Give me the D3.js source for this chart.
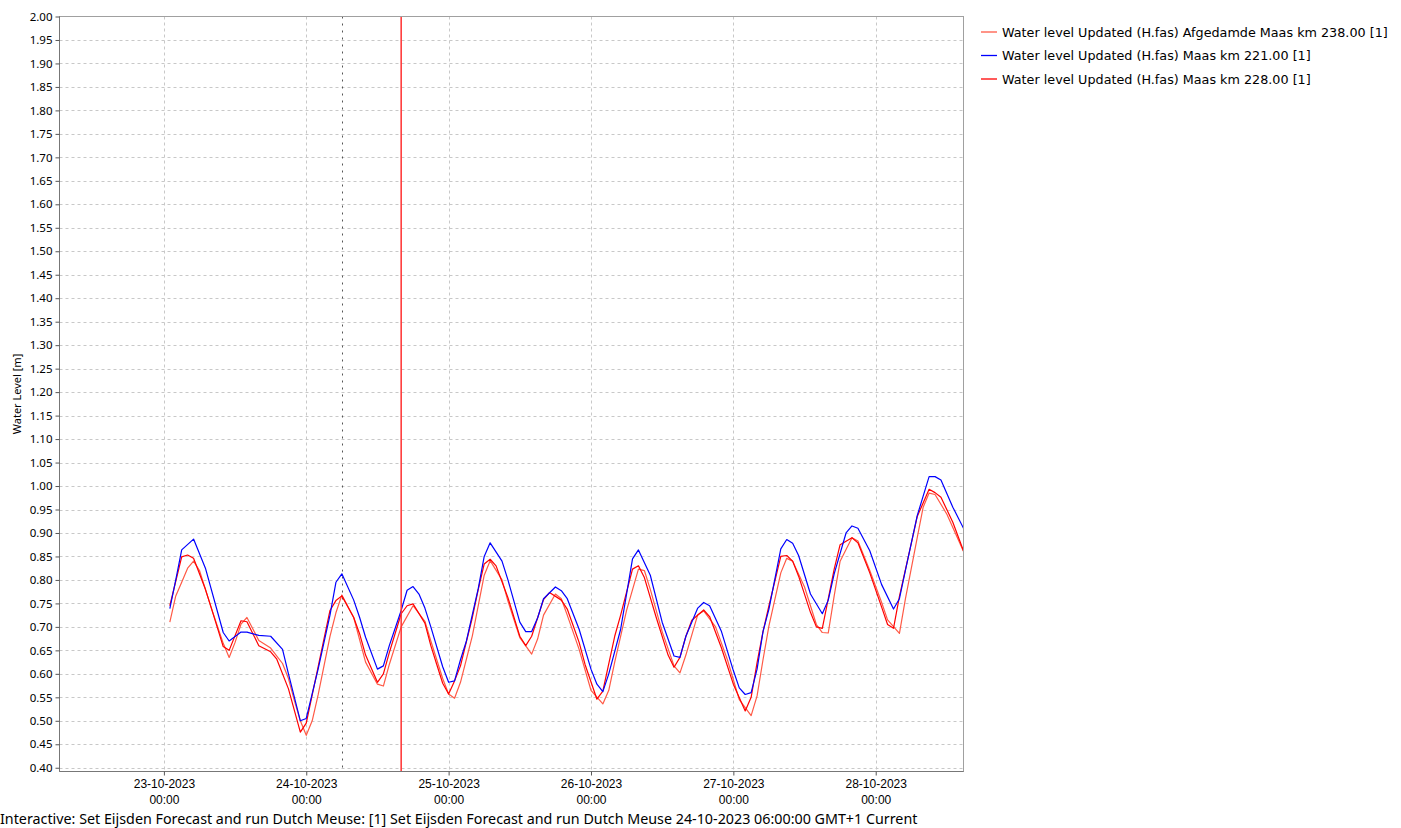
<!DOCTYPE html>
<html><head><meta charset="utf-8">
<script src="https://cdn.jsdelivr.net/npm/d3@7"></script>
<style>
body{margin:0;background:#fff;overflow:hidden;}
svg{display:block;font-family:"Noto Sans",sans-serif;}
</style>
</head><body><svg id="c" width="1401" height="828"></svg>
<script>
// ---- data (hours after 23-10-2023 00:00, water level in m) ----
const seriesNames = [
  "Water level Updated (H.fas) Afgedamde Maas km 238.00 [1]",
  "Water level Updated (H.fas) Maas km 221.00 [1]",
  "Water level Updated (H.fas) Maas km 228.00 [1]"
];
const seriesColors = ["#ff5a46", "#0000ff", "#ff0000"];

const afgHours  = [1,2,3,4,5,6,8,10,11,12,13,14,16,18,20,21,22,23,24,25,26,28,29,30,32,34,36,37,38,40,42,44,45,47,48,49,50,52,54,55,57,58,60,62,63,64,66,67,68,70,72,74,75,76,78,80,81,82,84,86,87,88,90,91,93,95,97,99,100,101,102,104,105,106,108,110,111,112,113,114,116,117,119,121,122,124,125,127,128,129,130,132,135,136];
const afgLevels = [0.71,0.766,0.795,0.825,0.84,0.82,0.74,0.665,0.635,0.667,0.706,0.72,0.671,0.655,0.622,0.59,0.543,0.50,0.469,0.50,0.555,0.68,0.73,0.768,0.72,0.625,0.578,0.574,0.62,0.70,0.745,0.712,0.67,0.59,0.557,0.548,0.582,0.681,0.81,0.841,0.80,0.755,0.677,0.642,0.674,0.725,0.77,0.76,0.725,0.652,0.565,0.536,0.565,0.625,0.735,0.823,0.82,0.78,0.69,0.617,0.602,0.64,0.726,0.734,0.70,0.63,0.545,0.511,0.553,0.63,0.702,0.815,0.846,0.84,0.785,0.705,0.688,0.687,0.766,0.84,0.89,0.883,0.82,0.752,0.715,0.686,0.759,0.89,0.955,0.985,0.982,0.94,0.855,0.835];

const km221Hours  = [1,2,3,5,7,10,11,13,14,16,18,20,21,23,24,26,28,29,30,32,33,34,36,37,38,40,41,42,43,44,45,47,48,49,50,51,53,54,55,57,58,60,61,62,63,64,66,67,68,70,72,73,74,75,77,79,80,82,84,86,87,88,90,91,92,94,96,97,98,99,100,101,102,104,105,106,107,109,111,112,113,115,116,117,119,121,123,124,125,127,129,130,131,133,135,136];
const km221Levels = [0.739,0.80,0.864,0.887,0.825,0.688,0.670,0.689,0.689,0.682,0.680,0.652,0.600,0.500,0.505,0.610,0.725,0.795,0.813,0.757,0.72,0.678,0.61,0.617,0.66,0.735,0.778,0.786,0.77,0.74,0.70,0.615,0.582,0.585,0.63,0.67,0.782,0.85,0.879,0.84,0.80,0.71,0.69,0.69,0.719,0.76,0.785,0.777,0.76,0.695,0.61,0.578,0.562,0.60,0.695,0.845,0.864,0.81,0.71,0.638,0.635,0.68,0.74,0.752,0.745,0.69,0.607,0.57,0.556,0.56,0.61,0.69,0.738,0.866,0.886,0.878,0.852,0.77,0.728,0.757,0.813,0.90,0.915,0.91,0.862,0.79,0.738,0.76,0.82,0.937,1.02,1.02,1.013,0.955,0.905,0.89];

const km228Hours  = [1,3,4,5,7,8,10,11,13,14,16,18,19,21,23,24,26,28,29,30,32,33,34,36,37,38,40,41,42,44,45,46,47,48,49,50,52,53,54,55,56,58,60,61,62,64,65,67,68,70,71,73,74,76,77,79,80,81,83,85,86,87,88,89,91,92,94,96,98,99,100,101,102,104,105,106,107,109,110,111,113,114,116,117,119,121,122,123,124,126,127,129,130,131,133,135,136];
const km228Levels = [0.745,0.849,0.853,0.846,0.78,0.74,0.658,0.65,0.713,0.711,0.66,0.647,0.632,0.568,0.476,0.495,0.615,0.735,0.756,0.766,0.72,0.685,0.64,0.582,0.60,0.645,0.728,0.745,0.749,0.708,0.66,0.62,0.58,0.557,0.585,0.617,0.72,0.78,0.834,0.844,0.83,0.762,0.68,0.66,0.68,0.758,0.773,0.757,0.738,0.667,0.62,0.546,0.563,0.68,0.725,0.823,0.83,0.805,0.72,0.64,0.614,0.635,0.68,0.714,0.736,0.722,0.655,0.578,0.521,0.55,0.624,0.69,0.745,0.85,0.852,0.84,0.808,0.731,0.70,0.697,0.823,0.875,0.89,0.879,0.815,0.742,0.705,0.697,0.765,0.878,0.935,0.993,0.986,0.976,0.923,0.855,0.835];

const yTickValues = [0.40,0.45,0.50,0.55,0.60,0.65,0.70,0.75,0.80,0.85,0.90,0.95,1.00,1.05,1.10,1.15,1.20,1.25,1.30,1.35,1.40,1.45,1.50,1.55,1.60,1.65,1.70,1.75,1.80,1.85,1.90,1.95,2.00];
const dayTicks = ["2023-10-23","2023-10-24","2023-10-25","2023-10-26","2023-10-27","2023-10-28"];
const systemTime = "2023-10-24T06:00:00Z";
const forecastTime = "2023-10-24T16:00:00Z";
const xDomain = ["2023-10-22T06:24:00Z", "2023-10-28T14:48:00Z"];
const yDomain = [0.392, 2.0];
const yTitle = "Water Level [m]";
const statusText = "Interactive: Set Eijsden Forecast and run Dutch Meuse: [1] Set Eijsden Forecast and run Dutch Meuse 24-10-2023 06:00:00 GMT+1 Current";

// ---- drawing ----
const base = Date.UTC(2023, 9, 23, 0, 0);
const toDate = h => new Date(base + h * 3600e3);
const series = [
  {name: seriesNames[0], color: seriesColors[0], pts: afgHours.map((h,i)=>({t:toDate(h), v:afgLevels[i]}))},
  {name: seriesNames[1], color: seriesColors[1], pts: km221Hours.map((h,i)=>({t:toDate(h), v:km221Levels[i]}))},
  {name: seriesNames[2], color: seriesColors[2], pts: km228Hours.map((h,i)=>({t:toDate(h), v:km228Levels[i]}))}
];

const L = 59.5, R = 963.5, T = 16.5, B = 771.5;
const svg = d3.select("#c");
svg.append("rect").attr("width",1401).attr("height",828).attr("fill","#fff");

const x = d3.scaleUtc().domain(xDomain.map(d=>new Date(d))).range([L, R]);
const y = d3.scaleLinear().domain(yDomain).range([B, T]);

svg.append("defs").append("clipPath").attr("id","clip")
  .append("rect").attr("x",L).attr("y",T).attr("width",R-L).attr("height",B-T);

// grid
const grid = svg.append("g");
grid.selectAll("line.h").data(yTickValues.filter(v=>v<1.999)).join("line")
  .attr("x1",L).attr("x2",R)
  .attr("y1",d=>Math.round(y(d))+0.5).attr("y2",d=>Math.round(y(d))+0.5)
  .attr("stroke","#c8c8c8").attr("stroke-dasharray","3,3").attr("stroke-width",1);
grid.selectAll("line.v").data(dayTicks).join("line")
  .attr("x1",d=>Math.round(x(new Date(d+"T00:00:00Z")))+0.5).attr("x2",d=>Math.round(x(new Date(d+"T00:00:00Z")))+0.5)
  .attr("y1",T).attr("y2",B)
  .attr("stroke","#c8c8c8").attr("stroke-dasharray","3,3").attr("stroke-width",1);

// system time marker (dark dotted)
const sx = Math.round(x(new Date(systemTime)))+0.5;
svg.append("line").attr("x1",sx).attr("x2",sx).attr("y1",T).attr("y2",B)
  .attr("stroke","#555").attr("stroke-dasharray","2,5").attr("stroke-width",1);

// series
const line = d3.line().x(d=>x(d.t)).y(d=>y(d.v));
const lg = svg.append("g").attr("clip-path","url(#clip)");
[series[0], series[2], series[1]].forEach(s=>{
  lg.append("path").datum(s.pts).attr("d",line)
    .attr("fill","none").attr("stroke",s.color).attr("stroke-width",1.2)
    .attr("stroke-linejoin","round");
});

// forecast time marker (red)
const fx = x(new Date(forecastTime));
svg.append("line").attr("x1",fx).attr("x2",fx).attr("y1",T).attr("y2",B)
  .attr("stroke","#ff3030").attr("stroke-width",1.5);

// frame
svg.append("rect").attr("x",L).attr("y",T).attr("width",R-L).attr("height",B-T)
  .attr("fill","none").attr("stroke","#a0a0a0").attr("stroke-width",1);
svg.append("line").attr("x1",L).attr("x2",L).attr("y1",T).attr("y2",B).attr("stroke","#777");
svg.append("line").attr("x1",L).attr("x2",R).attr("y1",B).attr("y2",B).attr("stroke","#777");

// y axis
const yAxis = d3.axisLeft(y).tickValues(yTickValues).tickFormat(d3.format(".2f")).tickSize(4).tickPadding(3);
const ya = svg.append("g").attr("transform",`translate(${L},0)`).call(yAxis);
ya.select(".domain").remove();
ya.selectAll(".tick line").attr("stroke","#555");
ya.selectAll("text").attr("font-size",11.5).attr("fill","#000").attr("font-family","Noto Sans");

// x axis
const xAxis = d3.axisBottom(x).tickValues(dayTicks.map(d=>new Date(d+"T00:00:00Z"))).tickSize(4).tickFormat("");
const xa = svg.append("g").attr("transform",`translate(0,${B})`).call(xAxis);
xa.select(".domain").remove();
xa.selectAll(".tick line").attr("stroke","#555");
const fmtD = d3.utcFormat("%d-%m-%Y"), fmtT = d3.utcFormat("%H:%M");
xa.selectAll(".tick").each(function(d){
  const g = d3.select(this);
  g.append("text").attr("y",16).attr("text-anchor","middle").attr("font-size",12).attr("fill","#000").text(fmtD(d));
  g.append("text").attr("y",32).attr("text-anchor","middle").attr("font-size",12).attr("fill","#000").text(fmtT(d));
});

// y title
svg.append("text").attr("transform","translate(21,394) rotate(-90)").attr("text-anchor","middle")
  .attr("font-size",11).attr("fill","#000").text(yTitle);

// legend
const leg = svg.append("g");
series.forEach((s,i)=>{
  const yy = 32 + i*23.5;
  leg.append("line").attr("x1",981).attr("x2",997).attr("y1",yy).attr("y2",yy).attr("stroke",s.color).attr("stroke-width",1.3);
  leg.append("text").attr("x",1002).attr("y",yy+4.5).attr("font-size",12.75).attr("font-family","DejaVu Sans").attr("fill","#000").text(s.name);
});

// status text
svg.append("text").attr("x",0).attr("y",824).attr("font-size",14.3).attr("fill","#000").text(statusText);
</script>
</body></html>
